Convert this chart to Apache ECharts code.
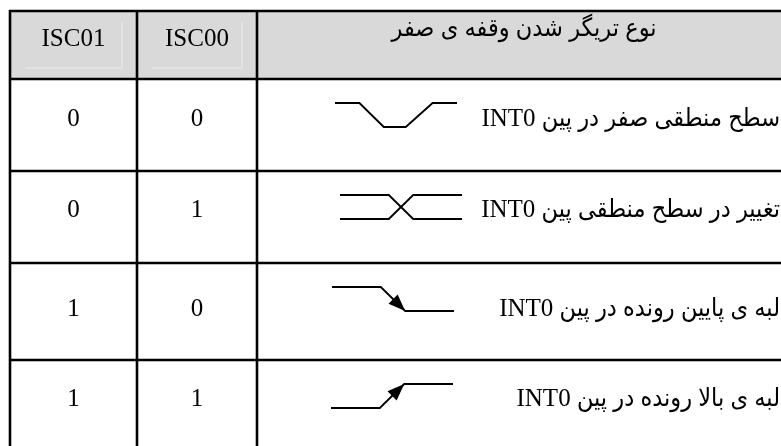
<!DOCTYPE html>
<html>
<head>
<meta charset="utf-8">
<script src="https://cdn.jsdelivr.net/npm/echarts@6/dist/echarts.min.js"></script>
<style>
  html, body { margin: 0; padding: 0; background: #fff; }
  #chart { width: 781px; height: 446px; direction: rtl; }
</style>
</head>
<body>
<div id="chart"></div>
<script>
// ---- data ----
const headers = ['ISC01', 'ISC00', 'نوع تریگر شدن وقفه ی صفر'];
const isc01 = [0, 0, 1, 1];
const isc00 = [0, 1, 0, 1];
const triggerTypes = [
  'سطح منطقی صفر در پین INT0',
  'تغییر در سطح منطقی پین INT0',
  'لبه ی پایین رونده در پین INT0',
  'لبه ی بالا رونده در پین INT0'
];
// waveform per row: list of polylines, each a list of [time, logicLevel]
const waveforms = [
  [[[0, 1], [1, 1], [2, 0], [2.9, 0], [4, 1], [5, 1]]],
  [[[0, 1], [2, 1], [3, 0], [5, 0]], [[0, 0], [2, 0], [3, 1], [5, 1]]],
  [[[0, 1], [2, 1], [3, 0], [5, 0]]],
  [[[0, 0], [2, 0], [3, 1], [5, 1]]]
];
// edge arrow marker per row
const waveArrows = [null, null, 'falling', 'rising'];

// ---- layout (pixel space of the hidden axes) ----
const W = 781, H = 446;
const colEdges = [10, 137, 257, 791];
const rowEdges = [11, 79, 171, 263, 360, 455];
const waveLeft = [335, 340, 332, 331];
const waveUnit = 24.4;
const waveHighOff = 24, waveLowOff = 48;
const textY = [119, 210, 309, 399];
const FONT = "'Liberation Serif', 'Times New Roman', 'DejaVu Sans Condensed', 'DejaVu Sans', serif";

const chart = echarts.init(document.getElementById('chart'), null, { renderer: 'canvas' });

function tableRender(params, api) {
  const children = [];
  const p = (x, y) => api.coord([x, y]);
  const a = p(colEdges[0], rowEdges[0]), b = p(W + 20, rowEdges[1]);
  children.push({ type: 'rect', shape: { x: a[0], y: a[1], width: b[0] - a[0], height: b[1] - a[1] },
    style: { fill: '#d9d9d9' } });
  const faint = [[25, 122], [152, 242]];
  faint.forEach(f => {
    const q1 = p(f[0], 68), q2 = p(f[1], 68), q3 = p(f[1], 22);
    children.push({ type: 'polyline', shape: { points: [q1, q2, q3] },
      style: { stroke: '#ececec', lineWidth: 1, fill: null } });
  });
  rowEdges.slice(0, 5).forEach(y => {
    const s = p(colEdges[0] - 1, y), e = p(W + 20, y);
    children.push({ type: 'line', shape: { x1: s[0], y1: s[1], x2: e[0], y2: e[1] },
      style: { stroke: '#000', lineWidth: 2.6 } });
  });
  colEdges.slice(0, 3).forEach(x => {
    const s = p(x, rowEdges[0] - 1), e = p(x, H + 20);
    children.push({ type: 'line', shape: { x1: s[0], y1: s[1], x2: e[0], y2: e[1] },
      style: { stroke: '#000', lineWidth: 2.6 } });
  });
  return { type: 'group', children };
}

function textRender(params, api) {
  const children = [];
  const cx = i => (colEdges[i] + colEdges[i + 1]) / 2;
  [0, 1].forEach(i => {
    const c = api.coord([cx(i), 39]);
    children.push({ type: 'text', x: c[0], y: c[1],
      style: { text: headers[i], font: '25px ' + FONT, fill: '#000', align: 'center', verticalAlign: 'middle' } });
  });
  const t = api.coord([cx(2), 29]);
  children.push({ type: 'text', x: t[0], y: t[1],
    style: { text: headers[2], font: '25px ' + FONT, fill: '#000', align: 'center', verticalAlign: 'middle' } });
  for (let r = 0; r < isc01.length; r++) {
    const c0 = api.coord([cx(0), textY[r]]);
    const c1 = api.coord([cx(1), textY[r]]);
    const c2 = api.coord([780, textY[r]]);
    children.push({ type: 'text', x: c0[0], y: c0[1],
      style: { text: String(isc01[r]), font: '25px ' + FONT, fill: '#000', align: 'center', verticalAlign: 'middle' } });
    children.push({ type: 'text', x: c1[0], y: c1[1],
      style: { text: String(isc00[r]), font: '25px ' + FONT, fill: '#000', align: 'center', verticalAlign: 'middle' } });
    children.push({ type: 'text', x: c2[0], y: c2[1],
      style: { text: triggerTypes[r], font: '25px ' + FONT, fill: '#000', align: 'right', verticalAlign: 'middle' } });
  }
  return { type: 'group', children };
}

function waveRender(params, api) {
  const r = api.value(0);
  const children = [];
  const top = rowEdges[r + 1];
  const toPx = pt => api.coord([waveLeft[r] + pt[0] * waveUnit, top + (pt[1] ? waveHighOff : waveLowOff)]);
  waveforms[r].forEach(line => {
    children.push({ type: 'polyline', shape: { points: line.map(toPx) },
      style: { stroke: '#000', lineWidth: 1.8, fill: null } });
  });
  if (waveArrows[r]) {
    const line = waveforms[r][0];
    let k = 0;
    for (let i = 1; i < line.length; i++) if (line[i][1] !== line[i - 1][1]) { k = i; break; }
    const s = toPx(line[k - 1]), e = toPx(line[k]);
    const dx = e[0] - s[0], dy = e[1] - s[1];
    const len = Math.hypot(dx, dy), ux = dx / len, uy = dy / len;
    const L = 17, hw = 6.5;
    const bx = e[0] - ux * L, by = e[1] - uy * L;
    children.push({ type: 'polygon', shape: { points: [e, [bx - uy * hw, by + ux * hw], [bx + uy * hw, by - ux * hw]] },
      style: { fill: '#000' } });
  }
  return { type: 'group', children };
}

chart.setOption({
  animation: false,
  backgroundColor: '#fff',
  grid: { left: 0, right: 0, top: 0, bottom: 0 },
  xAxis: { type: 'value', min: 0, max: W, show: false },
  yAxis: { type: 'value', min: 0, max: H, inverse: true, show: false },
  series: [
    { type: 'custom', renderItem: tableRender, data: [[0]], z: 1, silent: true, clip: false },
    { type: 'custom', renderItem: waveRender, data: triggerTypes.map((_, i) => [i]), z: 2, silent: true, clip: false },
    { type: 'custom', renderItem: textRender, data: [[0]], z: 3, silent: true, clip: false }
  ]
});
</script>
</body>
</html>
